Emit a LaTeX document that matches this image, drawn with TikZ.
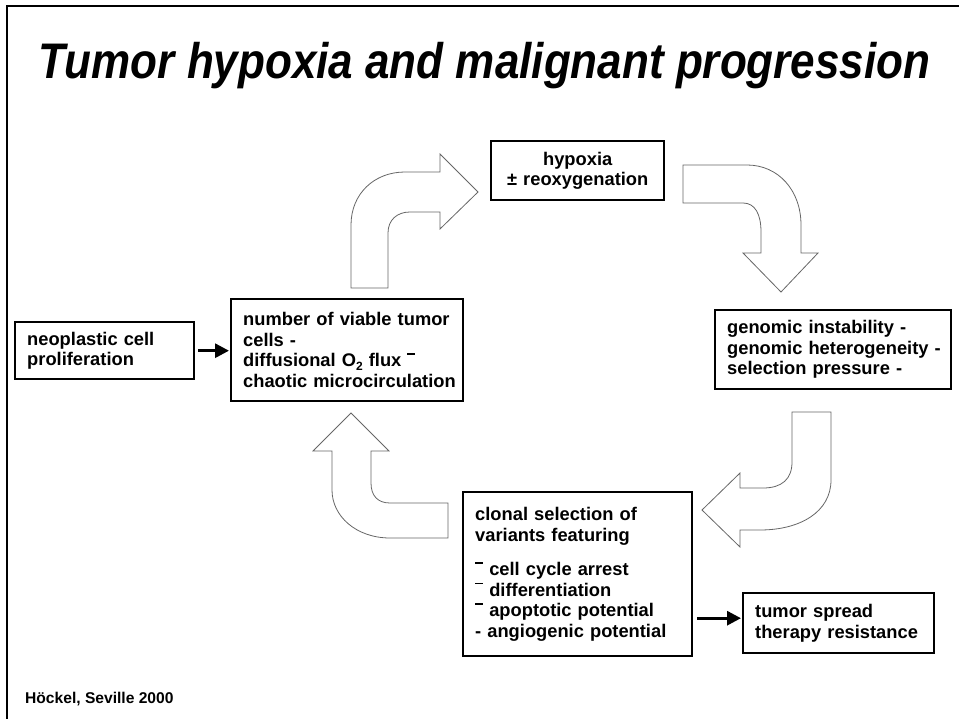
\documentclass[tikz,border=0pt]{standalone}
\usepackage{fontspec}
\setmainfont{Liberation Sans}
\usetikzlibrary{arrows.meta}
\newcommand\ovbar{\rule[12pt]{8pt}{1.6pt}}
\newcommand\bodyfont{\fontsize{18.3}{20.5}\selectfont\bfseries}
\tikzset{
  box/.style={draw, line width=2.4pt, inner xsep=12pt, inner ysep=0pt, anchor=north west, align=left, font=\bodyfont},
  conn/.style={line width=3pt, -{Triangle[length=14pt,width=14pt]}},
  blockarrow/.style={draw=black!60, line width=0.8pt, fill=white, line join=miter}
}
\begin{document}
\begin{tikzpicture}[x=1pt,y=-1pt]
\useasboundingbox (0,0) rectangle (959,719);
% frame (top and left edges)
\draw[line width=2pt] (7,719) -- (7,6) -- (959,6);
% title
\node[anchor=base, inner sep=0pt, font=\fontsize{50}{50}\selectfont\bfseries\itshape] (title) at (484.5,79)
  {\scalebox{0.88}[1]{Tumor hypoxia and malignant progression}};
% boxes
\node[box, text width=155pt, minimum height=57pt] (neo) at (14,321)
  {neoplastic cell\\proliferation};
\node[box, text width=208pt, minimum height=102pt] (num) at (230,298)
  {\mbox{number of viable tumor}\\cells -\\\mbox{diffusional O\raisebox{-3.5pt}{\fontsize{12}{12}\selectfont 2} flux \ovbar}\\\mbox{chaotic microcirculation}};
\node[box, align=center, text width=149pt, minimum height=59pt] (hyp) at (490,140)
  {hypoxia\\\mbox{\textpm{} reoxygenation}};
\node[box, text width=212pt, minimum height=79pt] (gen) at (714,309)
  {\mbox{genomic instability -}\\\mbox{genomic heterogeneity -}\\\mbox{selection pressure -}};
\node[box, text width=205pt, minimum height=164pt] (clon) at (462,491)
  {\mbox{clonal selection of}\\\mbox{variants featuring}\\[14pt]
   \mbox{\ovbar\ cell cycle arrest}\\\mbox{\ovbar\ differentiation}\\\mbox{\ovbar\ apoptotic potential}\\\mbox{- angiogenic potential}};
\node[box, text width=167pt, minimum height=60pt] (spread) at (742,592)
  {\mbox{tumor spread}\\\mbox{therapy resistance}};
% straight connectors
\draw[conn, shorten <=3pt, shorten >=1pt] (neo.east) -- (num.west |- neo.east);
\draw[conn, shorten <=4pt, shorten >=1pt] ([yshift=5pt]clon.east |- spread.west) -- ([yshift=5pt]spread.west);
% curved block arrows
% up then right (num -> hyp)
\path[blockarrow] (351,288) -- (351,225) .. controls (351,194) and (374,172) .. (405,172)
  -- (440,172) -- (440,154) -- (478,192) -- (440,229) -- (440,212) -- (410,212)
  .. controls (397,212) and (388,220) .. (388,233) -- (388,288) -- cycle;
% right then down (hyp -> gen)
\path[blockarrow] (683,165) -- (747,165) .. controls (778,165) and (801,190) .. (801,225)
  -- (801,253) -- (818,253) -- (781,292) -- (743,253) -- (761,253) -- (761,232)
  .. controls (761,214) and (755,203) .. (743,203) -- (683,203) -- cycle;
% down then left (gen -> clon)
\path[blockarrow] (792,412) -- (831,412) -- (831,480) .. controls (831,512) and (800,530) .. (760,530)
  -- (740,530) -- (740,547) -- (702,510) -- (740,473) -- (740,488) -- (763,488)
  .. controls (782,488) and (792,479) .. (792,462) -- cycle;
% left then up (clon -> num)
\path[blockarrow] (448,503) -- (448,538) -- (390,538) .. controls (356,538) and (332,516) .. (332,490)
  -- (332,451) -- (313,451) -- (351,413) -- (389,451) -- (371,451) -- (371,483)
  .. controls (371,496) and (378,503) .. (390,503) -- cycle;
% footer
\node[anchor=base west, inner sep=0pt, font=\fontsize{15.6}{16}\selectfont\bfseries] (foot) at (25,703)
  {Höckel, Seville 2000};
\end{tikzpicture}
\end{document}
